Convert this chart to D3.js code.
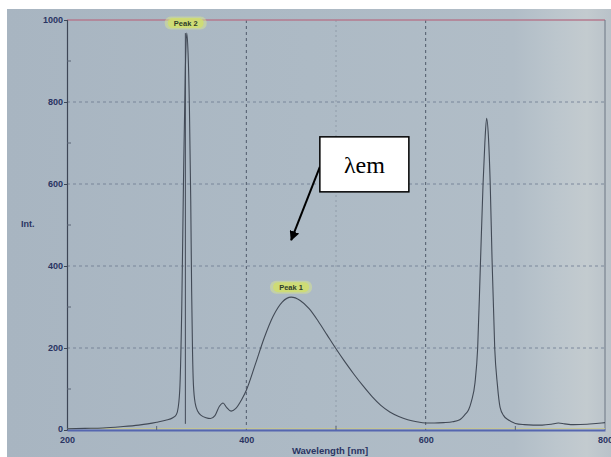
<!DOCTYPE html>
<html>
<head>
<meta charset="utf-8">
<script src="https://cdn.jsdelivr.net/npm/d3@7"></script>
<style>
  html, body { margin: 0; padding: 0; background: #fff; }
  svg { display: block; }
</style>
</head>
<body>
<div id="spectrum-chart"></div>
<script>
// spectrum (nm, intensity)
const wavelengths = [200, 220, 240, 260, 280, 290, 300, 310, 318, 322, 324, 326, 328, 330, 332, 333.5, 335, 336.5, 338, 339, 340, 341, 343, 346, 350, 355, 360, 365, 370, 374, 378, 383, 388, 395, 400, 410, 420, 430, 440, 450, 460, 470, 480, 490, 500, 510, 520, 530, 540, 550, 560, 570, 580, 590, 600, 610, 620, 630, 638, 644, 648, 651, 655, 658, 661, 664, 666, 668, 670, 672, 674, 677, 680, 683, 687, 692, 700, 710, 720, 730, 740, 748, 755, 765, 780, 790, 800];
const intensity = [3, 4, 5, 8, 12, 15, 19, 24, 30, 38, 55, 110, 300, 620, 880, 968, 920, 790, 560, 340, 190, 110, 65, 45, 35, 30, 28, 35, 58, 66, 55, 46, 52, 75, 97, 160, 225, 278, 312, 324, 316, 296, 266, 232, 198, 166, 136, 108, 82, 60, 44, 33, 25, 20, 17, 17, 18, 20, 25, 38, 50, 70, 115, 200, 400, 600, 700, 760, 715, 600, 420, 200, 110, 55, 35, 25, 16, 13, 12, 12, 14, 17, 15, 13, 14, 16, 18];

const xTicks = [200, 400, 600, 800];
const xMinorTicks = [300, 500, 700];
const yTicks = [0, 200, 400, 600, 800, 1000];
const yMinorTicks = [100, 300, 500, 700, 900];
const peakNames = ["Peak 2", "Peak 1"];
const peakWavelengths = [333.5, 451];
const peakValues = [968, 324];

let width = 611,
  height = 457,
  margin = { top: 20, right: 6, bottom: 27, left: 67 };
let plotW = width - margin.left - margin.right,
  plotH = height - margin.top - margin.bottom;

let root = d3.select('#spectrum-chart').append('svg')
  .attr('width', width)
  .attr('height', height);

// photo-ish background: white paper edge, grey-blue screen, glare on the right
let defs = root.append('defs');
let bg = defs.append('linearGradient').attr('id', 'bg').attr('x1', 0).attr('x2', 1).attr('y1', 0).attr('y2', 0);
[[0, '#a8b5c1'], [0.5, '#adbac5'], [0.84, '#b1bdc7'], [0.91, '#bcc6cd'], [0.96, '#c3cbcf'], [1, '#b9c2c9']]
  .forEach(s => bg.append('stop').attr('offset', s[0]).attr('stop-color', s[1]));
let fade = defs.append('linearGradient').attr('id', 'fade').attr('x1', 0).attr('x2', 0).attr('y1', 0).attr('y2', 1);
fade.append('stop').attr('offset', 0).attr('stop-color', '#3a4048').attr('stop-opacity', 0.9);
fade.append('stop').attr('offset', 0.55).attr('stop-color', '#3a4048').attr('stop-opacity', 0.7);
fade.append('stop').attr('offset', 1).attr('stop-color', '#3a4048').attr('stop-opacity', 0.15);
defs.append('marker').attr('id', 'arrow')
  .attr('viewBox', '0 0 10 10').attr('refX', 9).attr('refY', 5)
  .attr('markerWidth', 5).attr('markerHeight', 5).attr('orient', 'auto')
  .append('path').attr('d', 'M0,0 L10,5 L0,10 z').attr('fill', '#000');

root.append('rect').attr('width', width).attr('height', height).attr('fill', '#fff');
root.append('rect').attr('x', 7).attr('y', 9).attr('width', width - 7).attr('height', height - 9).attr('fill', 'url(#bg)');

let svg = root.append('g').attr('transform', `translate(${margin.left},${margin.top})`);

let x = d3.scaleLinear().domain([200, 800]).range([0, plotW]);
let y = d3.scaleLinear().domain([0, 1000]).range([plotH, 0]);

/* grid */
svg.append('g').selectAll('line')
  .data(yTicks.filter(v => v > 0 && v < 1000))
  .enter().append('line')
  .attr('x1', 0).attr('x2', plotW)
  .attr('y1', d => y(d)).attr('y2', d => y(d))
  .attr('stroke', '#6d7a90').attr('stroke-width', 1).attr('stroke-dasharray', '3,3').attr('opacity', 0.8);
svg.append('g').selectAll('line')
  .data([400, 600])
  .enter().append('line')
  .attr('x1', d => x(d)).attr('x2', d => x(d))
  .attr('y1', 0).attr('y2', plotH)
  .attr('stroke', '#4f5a6a').attr('stroke-width', 1).attr('stroke-dasharray', '3,3');
svg.append('line')
  .attr('x1', x(500)).attr('x2', x(500)).attr('y1', 0).attr('y2', plotH)
  .attr('stroke', '#7e8a98').attr('stroke-width', 1).attr('stroke-dasharray', '2,3').attr('opacity', 0.6);

// frame: pink top, grey right
svg.append('line').attr('x1', 0).attr('x2', plotW).attr('y1', 0).attr('y2', 0)
  .attr('stroke', '#b57a8e').attr('stroke-width', 1.5);
svg.append('line').attr('x1', plotW).attr('x2', plotW).attr('y1', 0).attr('y2', plotH)
  .attr('stroke', '#6c7684').attr('stroke-width', 1);

// emission marker line
svg.append('line')
  .attr('x1', x(451)).attr('x2', x(451))
  .attr('y1', y(1000)).attr('y2', y(460))
  .attr('stroke', 'url(#fade)').attr('stroke-width', 1.2);

/* axes */
let yAxis = d3.axisLeft(y).tickValues(yTicks).tickSize(3).tickFormat(d3.format('d'));
let gy = svg.append('g').call(yAxis);
gy.select('.domain').attr('stroke', '#3e4656').attr('stroke-width', 1.2);
gy.selectAll('.tick line').attr('stroke', '#3e4656');
gy.selectAll('.tick text')
  .attr('x', -4)
  .attr('dy', d => d === 0 ? '0.2em' : '0.32em')
  .attr('fill', '#2a3462')
  .style('font-family', 'Arial, "Liberation Sans", sans-serif')
  .style('font-size', '9px')
  .style('font-weight', 'bold');
svg.append('g').selectAll('line')
  .data(yMinorTicks)
  .enter().append('line')
  .attr('x1', 0).attr('x2', 4)
  .attr('y1', d => y(d)).attr('y2', d => y(d))
  .attr('stroke', '#5a6475');

let xAxis = d3.axisBottom(x).tickValues(xTicks).tickSize(0).tickFormat(d3.format('d'));
let gx = svg.append('g').attr('transform', `translate(0,${plotH})`).call(xAxis);
gx.select('.domain').attr('stroke', '#5566b0').attr('stroke-width', 2);
gx.selectAll('.tick text')
  .attr('dy', '0.85em')
  .attr('y', 5)
  .attr('fill', '#2a3462')
  .style('font-family', 'Arial, "Liberation Sans", sans-serif')
  .style('font-size', '9px')
  .style('font-weight', 'bold');
svg.append('line').attr('x1', 0).attr('x2', plotW).attr('y1', plotH - 1.5).attr('y2', plotH - 1.5)
  .attr('stroke', '#c9c78a').attr('stroke-width', 1).attr('opacity', 0.8);
svg.append('g').selectAll('line')
  .data(xMinorTicks)
  .enter().append('line')
  .attr('x1', d => x(d)).attr('x2', d => x(d))
  .attr('y1', plotH).attr('y2', plotH - 4)
  .attr('stroke', '#5a6475');

svg.append('text')
  .attr('x', plotW / 2 - 6).attr('y', plotH + 24)
  .attr('text-anchor', 'middle')
  .attr('fill', '#2a3462')
  .style('font-family', 'Arial, "Liberation Sans", sans-serif')
  .style('font-size', '9.5px').style('font-weight', 'bold')
  .text('Wavelength [nm]');
svg.append('text')
  .attr('x', -46).attr('y', y(500) + 2)
  .attr('fill', '#2a3462')
  .style('font-family', 'Arial, "Liberation Sans", sans-serif')
  .style('font-size', '9px').style('font-weight', 'bold')
  .text('Int.');

/* spectrum */
let spectrum = wavelengths.map((w, i) => ({ w: w, v: intensity[i] }));
let line = d3.line().x(d => x(d.w)).y(d => y(d.v)).curve(d3.curveMonotoneX);
svg.append('path')
  .datum(spectrum)
  .attr('fill', 'none')
  .attr('stroke', '#424a56')
  .attr('stroke-width', 1.1)
  .attr('d', line);

// peak 2 drop line
svg.append('line')
  .attr('x1', x(332)).attr('x2', x(332))
  .attr('y1', y(peakValues[0])).attr('y2', y(15))
  .attr('stroke', '#424a56').attr('stroke-width', 1);

/* peak labels */
let peaks = peakNames.map((n, i) => ({ name: n, w: peakWavelengths[i], v: peakValues[i] }));
let pl = svg.selectAll('.peak-label')
  .data(peaks)
  .enter().append('g')
  .attr('transform', d => `translate(${x(d.w) - 1},${y(d.v) - 10})`);
pl.append('rect')
  .attr('x', -21).attr('y', -6.5).attr('width', 42).attr('height', 13).attr('rx', 6)
  .attr('fill', '#d8e690').attr('opacity', 0.5);
pl.append('rect')
  .attr('x', -18).attr('y', -5).attr('width', 36).attr('height', 10).attr('rx', 5)
  .attr('fill', '#cfdd70').attr('opacity', 0.9);
pl.append('text')
  .attr('text-anchor', 'middle').attr('dy', '0.35em')
  .attr('fill', '#2f3d2a')
  .style('font-family', 'Arial, "Liberation Sans", sans-serif')
  .style('font-size', '7.5px').style('font-weight', 'bold')
  .text(d => d.name);

/* λem callout */
let boxX = x(482), boxY = y(715);
svg.append('line')
  .attr('x1', boxX).attr('y1', boxY + 30)
  .attr('x2', x(450)).attr('y2', y(463))
  .attr('stroke', '#000').attr('stroke-width', 2)
  .attr('marker-end', 'url(#arrow)');
svg.append('rect')
  .attr('x', boxX).attr('y', boxY).attr('width', 89).attr('height', 55)
  .attr('fill', '#fff').attr('stroke', '#000').attr('stroke-width', 1.5);
svg.append('text')
  .attr('x', boxX + 44.5).attr('y', boxY + 36)
  .attr('text-anchor', 'middle')
  .attr('fill', '#000')
  .style('font-family', '"Liberation Serif", "Times New Roman", serif')
  .style('font-size', '24px')
  .text('λem');
</script>
</body>
</html>
